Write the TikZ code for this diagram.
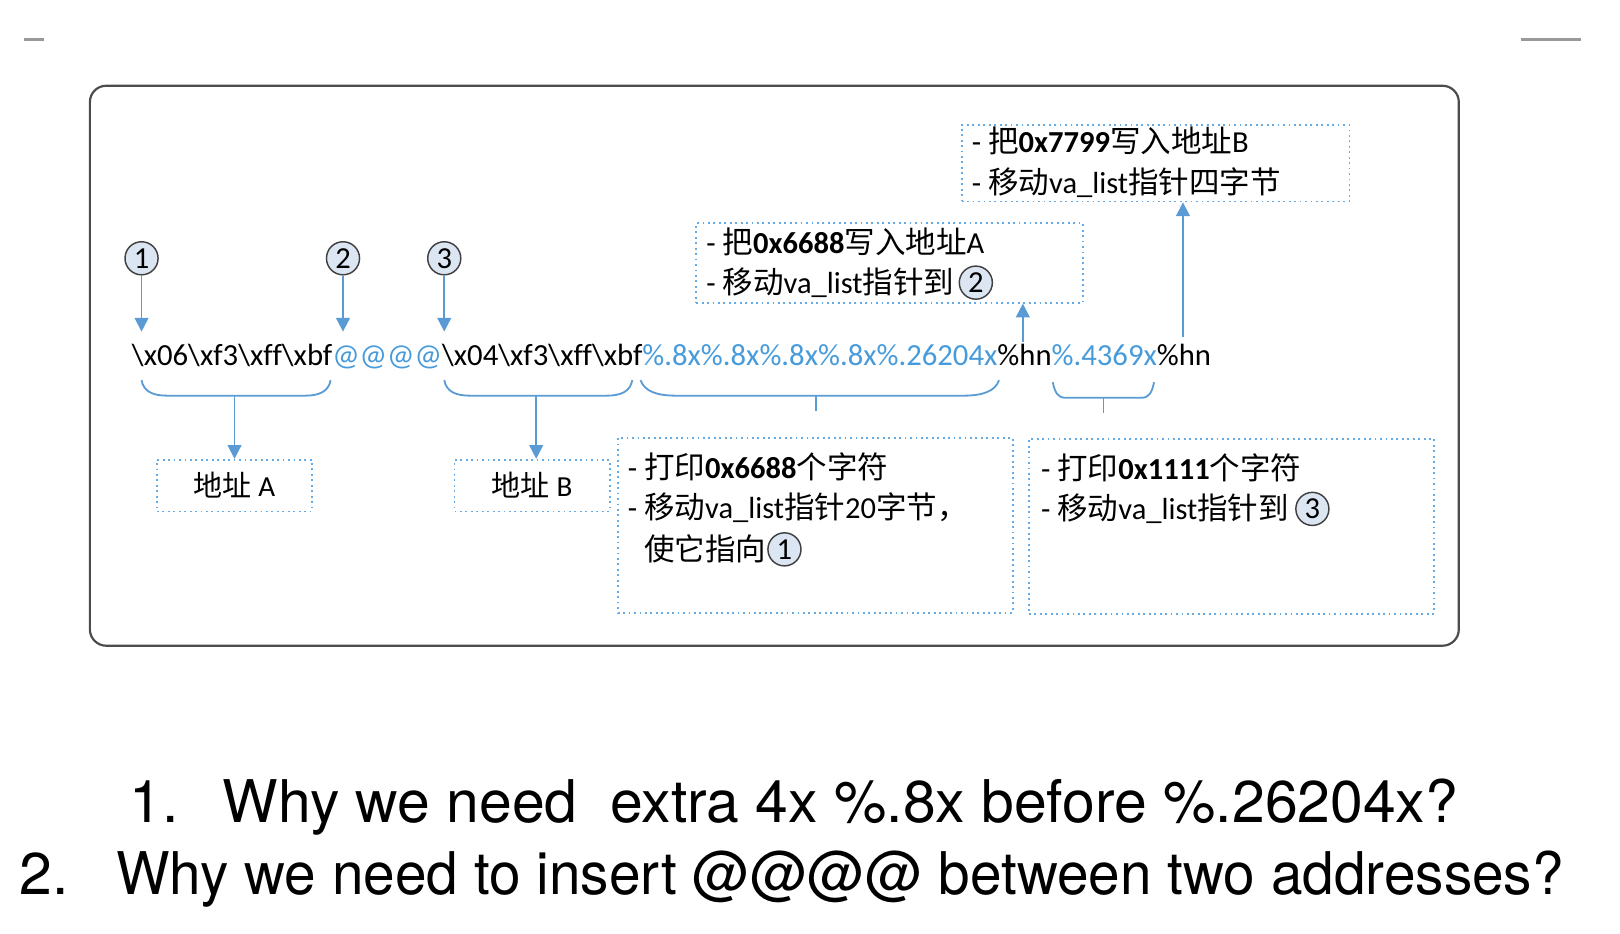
\documentclass[tikz,border=0pt]{standalone}
\usepackage{fontspec}
\setmainfont{Carlito}[Ligatures=CommonOff]
\newfontfamily\cjk{Noto Sans CJK SC}
\newfontfamily\heros{TeX Gyre Heros}
\usetikzlibrary{arrows.meta,positioning}
\definecolor{lineblue}{RGB}{91,155,213}
\definecolor{textblue}{RGB}{72,155,218}
\definecolor{dotblue}{RGB}{100,170,230}
\definecolor{numfill}{RGB}{220,230,242}
\newcommand{\zh}[1]{{\cjk #1}}

\begin{document}
\begin{tikzpicture}[x=0.01cm, y=-0.01cm,
    numc/.style={circle, draw=black!75, fill=numfill, minimum size=0.32cm, inner sep=0pt, font=\fontsize{8.4}{10}\selectfont},
    barrow/.style={draw=lineblue, line width=0.5pt, -{Triangle[width=3.8pt,length=3.8pt]}},
    brace/.style={draw=lineblue, line width=0.5pt},
    dotbox/.style={draw=dotblue, densely dotted, line width=0.5pt, inner sep=0pt},
    txt/.style={anchor=base west, inner sep=0pt, font=\fontsize{8.4}{10}\selectfont},
    question/.style={anchor=base west, inner sep=0pt, font=\heros\fontsize{16.2}{19}\selectfont}]
    \useasboundingbox (0,0) rectangle (1568,904);
    % slide marks and frame
    \draw[black!40, line width=0.8pt] (23,38) -- (43,38);
    \draw[black!40, line width=0.8pt] (1472,38) -- (1530,38);
    \draw[black!70, line width=0.6pt, rounded corners=4.5pt] (87,83) rectangle (1412,625);

    % the format string
    \node[txt, font=\fontsize{8.45}{10}\selectfont] (fmt) at (127,354) {\textbackslash x06\textbackslash xf3\textbackslash xff\textbackslash xbf\textcolor{textblue}{@@@@}\textbackslash x04\textbackslash xf3\textbackslash xff\textbackslash xbf\textcolor{textblue}{\%.8x\%.8x\%.8x\%.8x\%.26204x}\%hn\textcolor{textblue}{\%.4369x}\%hn};

    % numbered pointers
    \node[numc] (n1) at (137,250) {1};
    \node[numc] (n2) at (332,250) {2};
    \node[numc] (n3) at (430,250) {3};
    \coordinate (t1) at (137,321);
    \coordinate (t2) at (332,321);
    \coordinate (t3) at (430,321);
    \draw[barrow] (n1) -- (t1);
    \draw[barrow] (n2) -- (t2);
    \draw[barrow] (n3) -- (t3);

    % braces under the string
    \draw[brace] (137,368) .. controls (139,379) and (148,383) .. (162,383) -- (295,383) .. controls (309,383) and (318,379) .. (320,368);
    \draw[brace] (430,368) .. controls (432,379) and (441,383) .. (455,383) -- (587,383) .. controls (601,383) and (610,379) .. (612,368);
    \draw[brace] (620,368) .. controls (624,379) and (636,383) .. (655,383) -- (932,383) .. controls (951,383) and (963,379) .. (967,368);
    \draw[brace] (1019,370) .. controls (1021,380) and (1024,385) .. (1031,385) -- (1105,385) .. controls (1112,385) and (1115,380) .. (1117,370);
    \coordinate (b1) at (227,383);
    \coordinate (b2) at (519,383);
    \coordinate (b3) at (790,383);
    \coordinate (b4) at (1068,385);

    % address boxes
    \node[dotbox, minimum width=1.5cm, minimum height=0.5cm, font=\fontsize{8}{10}\selectfont] (addrA) at (227,470) {\zh{地址} A};
    \node[dotbox, minimum width=1.5cm, minimum height=0.5cm, font=\fontsize{8}{10}\selectfont] (addrB) at (515,470) {\zh{地址} B};
    \draw[barrow] (b1) -- (addrA);
    \draw[barrow] (b2) -- (b2 |- addrB.north);
    \draw[brace] (b3) -- ++(0,15);
    \draw[brace] (b4) -- ++(0,15);

    % boxes under the string
    \node[dotbox, minimum width=3.82cm, minimum height=1.69cm] (boxC) at (789,508.5) {};
    \node[txt] (c1) at (607,463) {- \zh{打印}\textbf{0x6688}\zh{个字符}};
    \node[txt] (c2) at (607,502) {- \zh{移动}va\_list\zh{指针}20\zh{字节，}};
    \node[txt] (c3) at (623,543) {\zh{使它指向}};
    \node[numc, right=0pt of c3] (c3n) {1};

    \node[dotbox, minimum width=3.92cm, minimum height=1.69cm] (boxD) at (1192,509.5) {};
    \node[txt] (d1) at (1007,464) {- \zh{打印}\textbf{0x1111}\zh{个字符}};
    \node[txt] (d2) at (1007,503) {- \zh{移动}va\_list\zh{指针到}};
    \node[numc, right=1.5pt of d2] (d2n) {3};

    % boxes above the string
    \node[dotbox, minimum width=3.74cm, minimum height=0.77cm] (boxE) at (861,254.5) {};
    \node[txt] (e1) at (683,245) {- \zh{把}\textbf{0x6688}\zh{写入地址}A};
    \node[txt] (e2) at (683,284) {- \zh{移动}va\_list\zh{指针到}};
    \node[numc, right=1pt of e2] (e2n) {2};

    \node[dotbox, minimum width=3.75cm, minimum height=0.74cm] (boxF) at (1118.5,158) {};
    \node[txt] (f1) at (940,148) {- \zh{把}\textbf{0x7799}\zh{写入地址}B};
    \node[txt] (f2) at (940,187) {- \zh{移动}va\_list\zh{指针四字节}};

    \coordinate (hn1) at (990,331);
    \coordinate (hn2) at (1145,326);
    \draw[barrow] (hn1) -- (hn1 |- boxE.south);
    \draw[barrow] (hn2) -- (hn2 |- boxF.south);

    % questions
    \node[question] (q1num) at (125,796) {1.};
    \node[question] (q1) at (215,796) {Why we need\ \ extra 4x \%.8x before \%.26204x?};
    \node[question] (q2num) at (18,866) {2.};
    \node[question] (q2) at (112,866) {\resizebox{14cm}{\height}{Why we need to insert @@@@ between two addresses?}};
\end{tikzpicture}
\end{document}
